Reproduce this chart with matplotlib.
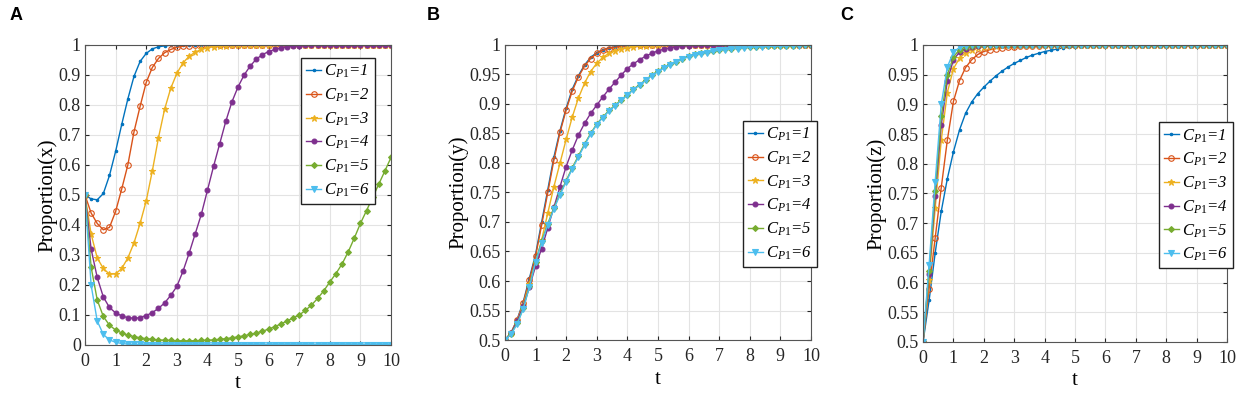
import numpy as np
import matplotlib
matplotlib.use("Agg")
import matplotlib.pyplot as plt

plt.rcParams['font.family'] = ['Liberation Serif', 'DejaVu Serif']
plt.rcParams['mathtext.fontset'] = 'custom'
plt.rcParams['mathtext.it'] = 'Liberation Serif:italic'
plt.rcParams['mathtext.rm'] = 'Liberation Serif'

# time grid (step 0.2)
t = np.round(np.arange(0, 10.01, 0.2), 1)

# ---------------- Panel A : Proportion(x) ----------------
A1 = [0.500, 0.487, 0.484, 0.505, 0.565, 0.645, 0.735, 0.820, 0.895, 0.945,
      0.972, 0.987, 0.994, 0.997, 0.999, 1.000, 1.000, 1.000, 1.000, 1.000,
      1.000, 1.000, 1.000, 1.000, 1.000, 1.000, 1.000, 1.000, 1.000, 1.000,
      1.000, 1.000, 1.000, 1.000, 1.000, 1.000, 1.000, 1.000, 1.000, 1.000,
      1.000, 1.000, 1.000, 1.000, 1.000, 1.000, 1.000, 1.000, 1.000, 1.000,
      1.000]
A2 = [0.500, 0.440, 0.405, 0.384, 0.392, 0.445, 0.520, 0.600, 0.710, 0.795,
      0.875, 0.925, 0.955, 0.974, 0.985, 0.992, 0.996, 0.998, 0.999, 1.000,
      1.000, 1.000, 1.000, 1.000, 1.000, 1.000, 1.000, 1.000, 1.000, 1.000,
      1.000, 1.000, 1.000, 1.000, 1.000, 1.000, 1.000, 1.000, 1.000, 1.000,
      1.000, 1.000, 1.000, 1.000, 1.000, 1.000, 1.000, 1.000, 1.000, 1.000,
      1.000]
A3 = [0.500, 0.370, 0.290, 0.255, 0.236, 0.237, 0.255, 0.290, 0.340, 0.405,
      0.480, 0.580, 0.690, 0.785, 0.855, 0.905, 0.940, 0.962, 0.976, 0.985,
      0.991, 0.994, 0.996, 0.998, 0.999, 1.000, 1.000, 1.000, 1.000, 1.000,
      1.000, 1.000, 1.000, 1.000, 1.000, 1.000, 1.000, 1.000, 1.000, 1.000,
      1.000, 1.000, 1.000, 1.000, 1.000, 1.000, 1.000, 1.000, 1.000, 1.000,
      1.000]
A4 = [0.500, 0.320, 0.225, 0.160, 0.125, 0.107, 0.097, 0.091, 0.089, 0.091,
      0.098, 0.108, 0.122, 0.140, 0.165, 0.195, 0.245, 0.305, 0.370, 0.435,
      0.515, 0.595, 0.670, 0.745, 0.810, 0.860, 0.900, 0.930, 0.953, 0.968,
      0.978, 0.985, 0.990, 0.994, 0.996, 0.998, 0.999, 1.000, 1.000, 1.000,
      1.000, 1.000, 1.000, 1.000, 1.000, 1.000, 1.000, 1.000, 1.000, 1.000,
      1.000]
A5 = [0.500, 0.260, 0.150, 0.095, 0.066, 0.050, 0.040, 0.033, 0.028, 0.024,
      0.021, 0.019, 0.017, 0.016, 0.015, 0.014, 0.014, 0.014, 0.014, 0.015,
      0.016, 0.017, 0.019, 0.021, 0.024, 0.027, 0.031, 0.035, 0.040, 0.046,
      0.053, 0.061, 0.070, 0.080, 0.090, 0.100, 0.115, 0.133, 0.155, 0.180,
      0.210, 0.238, 0.270, 0.310, 0.356, 0.405, 0.448, 0.492, 0.536, 0.580,
      0.625]
A6 = [0.500, 0.200, 0.080, 0.035, 0.017, 0.009, 0.005, 0.003, 0.002, 0.002,
      0.001, 0.001, 0.001, 0.001, 0.001, 0.001, 0.001, 0.001, 0.001, 0.001,
      0.001, 0.001, 0.001, 0.001, 0.001, 0.001, 0.001, 0.001, 0.001, 0.001,
      0.001, 0.001, 0.001, 0.001, 0.001, 0.001, 0.001, 0.001, 0.001, 0.001,
      0.001, 0.001, 0.001, 0.001, 0.001, 0.001, 0.001, 0.001, 0.001, 0.001,
      0.001]

# ---------------- Panel B : Proportion(y) ----------------
B1 = [0.500, 0.512, 0.535, 0.565, 0.605, 0.645, 0.700, 0.755, 0.810, 0.855,
      0.893, 0.925, 0.948, 0.966, 0.979, 0.987, 0.992, 0.995, 0.997, 0.998,
      0.999, 1.000, 1.000, 1.000, 1.000, 1.000, 1.000, 1.000, 1.000, 1.000,
      1.000, 1.000, 1.000, 1.000, 1.000, 1.000, 1.000, 1.000, 1.000, 1.000,
      1.000, 1.000, 1.000, 1.000, 1.000, 1.000, 1.000, 1.000, 1.000, 1.000,
      1.000]
B2 = [0.500, 0.512, 0.534, 0.563, 0.602, 0.642, 0.695, 0.750, 0.805, 0.852,
      0.890, 0.922, 0.946, 0.964, 0.977, 0.986, 0.991, 0.994, 0.996, 0.998,
      0.999, 1.000, 1.000, 1.000, 1.000, 1.000, 1.000, 1.000, 1.000, 1.000,
      1.000, 1.000, 1.000, 1.000, 1.000, 1.000, 1.000, 1.000, 1.000, 1.000,
      1.000, 1.000, 1.000, 1.000, 1.000, 1.000, 1.000, 1.000, 1.000, 1.000,
      1.000]
B3 = [0.500, 0.512, 0.533, 0.560, 0.595, 0.630, 0.670, 0.715, 0.760, 0.800,
      0.840, 0.878, 0.910, 0.935, 0.955, 0.969, 0.979, 0.986, 0.990, 0.993,
      0.995, 0.997, 0.998, 0.999, 1.000, 1.000, 1.000, 1.000, 1.000, 1.000,
      1.000, 1.000, 1.000, 1.000, 1.000, 1.000, 1.000, 1.000, 1.000, 1.000,
      1.000, 1.000, 1.000, 1.000, 1.000, 1.000, 1.000, 1.000, 1.000, 1.000,
      1.000]
B4 = [0.500, 0.512, 0.532, 0.558, 0.590, 0.625, 0.655, 0.690, 0.725, 0.760,
      0.794, 0.822, 0.847, 0.867, 0.884, 0.898, 0.912, 0.925, 0.937, 0.949,
      0.960, 0.968, 0.975, 0.981, 0.986, 0.990, 0.993, 0.995, 0.997, 0.998,
      0.999, 1.000, 1.000, 1.000, 1.000, 1.000, 1.000, 1.000, 1.000, 1.000,
      1.000, 1.000, 1.000, 1.000, 1.000, 1.000, 1.000, 1.000, 1.000, 1.000,
      1.000]
B5 = [0.500, 0.511, 0.528, 0.554, 0.591, 0.633, 0.667, 0.697, 0.724, 0.748,
      0.770, 0.792, 0.812, 0.832, 0.850, 0.866, 0.878, 0.889, 0.898, 0.907,
      0.916, 0.925, 0.933, 0.941, 0.949, 0.956, 0.962, 0.967, 0.972, 0.977,
      0.981, 0.984, 0.986, 0.988, 0.990, 0.992, 0.993, 0.994, 0.995, 0.996,
      0.997, 0.997, 0.998, 0.998, 0.999, 0.999, 0.999, 0.999, 1.000, 1.000,
      1.000]
B6 = [0.500, 0.510, 0.527, 0.553, 0.590, 0.632, 0.665, 0.695, 0.722, 0.746,
      0.768, 0.790, 0.810, 0.830, 0.849, 0.865, 0.877, 0.888, 0.897, 0.906,
      0.915, 0.924, 0.932, 0.940, 0.948, 0.955, 0.961, 0.966, 0.971, 0.976,
      0.980, 0.983, 0.985, 0.987, 0.989, 0.991, 0.992, 0.993, 0.994, 0.995,
      0.996, 0.9965, 0.997, 0.9975, 0.998, 0.998, 0.9985, 0.999, 0.999, 0.9995,
      0.9995]

# ---------------- Panel C : Proportion(z) ----------------
C1 = [0.500, 0.570, 0.650, 0.720, 0.775, 0.820, 0.857, 0.885, 0.904, 0.918,
      0.929, 0.939, 0.948, 0.956, 0.963, 0.969, 0.974, 0.979, 0.983, 0.986,
      0.989, 0.991, 0.993, 0.995, 0.996, 0.997, 0.998, 0.998, 0.999, 0.999,
      1.000, 1.000, 1.000, 1.000, 1.000, 1.000, 1.000, 1.000, 1.000, 1.000,
      1.000, 1.000, 1.000, 1.000, 1.000, 1.000, 1.000, 1.000, 1.000, 1.000,
      1.000]
C2 = [0.500, 0.590, 0.675, 0.760, 0.840, 0.905, 0.940, 0.962, 0.975, 0.984,
      0.989, 0.992, 0.994, 0.995, 0.996, 0.997, 0.998, 0.998, 0.999, 0.999,
      1.000, 1.000, 1.000, 1.000, 1.000, 1.000, 1.000, 1.000, 1.000, 1.000,
      1.000, 1.000, 1.000, 1.000, 1.000, 1.000, 1.000, 1.000, 1.000, 1.000,
      1.000, 1.000, 1.000, 1.000, 1.000, 1.000, 1.000, 1.000, 1.000, 1.000,
      1.000]
C3 = [0.500, 0.605, 0.725, 0.840, 0.920, 0.960, 0.978, 0.987, 0.992, 0.995,
      0.997, 0.998, 0.999, 1.000, 1.000, 1.000, 1.000, 1.000, 1.000, 1.000,
      1.000, 1.000, 1.000, 1.000, 1.000, 1.000, 1.000, 1.000, 1.000, 1.000,
      1.000, 1.000, 1.000, 1.000, 1.000, 1.000, 1.000, 1.000, 1.000, 1.000,
      1.000, 1.000, 1.000, 1.000, 1.000, 1.000, 1.000, 1.000, 1.000, 1.000,
      1.000]
C4 = [0.500, 0.615, 0.745, 0.865, 0.940, 0.975, 0.988, 0.994, 0.997, 0.999,
      1.000, 1.000, 1.000, 1.000, 1.000, 1.000, 1.000, 1.000, 1.000, 1.000,
      1.000, 1.000, 1.000, 1.000, 1.000, 1.000, 1.000, 1.000, 1.000, 1.000,
      1.000, 1.000, 1.000, 1.000, 1.000, 1.000, 1.000, 1.000, 1.000, 1.000,
      1.000, 1.000, 1.000, 1.000, 1.000, 1.000, 1.000, 1.000, 1.000, 1.000,
      1.000]
C5 = [0.500, 0.620, 0.755, 0.880, 0.950, 0.980, 0.992, 0.997, 0.999, 1.000,
      1.000, 1.000, 1.000, 1.000, 1.000, 1.000, 1.000, 1.000, 1.000, 1.000,
      1.000, 1.000, 1.000, 1.000, 1.000, 1.000, 1.000, 1.000, 1.000, 1.000,
      1.000, 1.000, 1.000, 1.000, 1.000, 1.000, 1.000, 1.000, 1.000, 1.000,
      1.000, 1.000, 1.000, 1.000, 1.000, 1.000, 1.000, 1.000, 1.000, 1.000,
      1.000]
C6 = [0.500, 0.630, 0.770, 0.900, 0.963, 0.988, 0.996, 0.999, 1.000, 1.000,
      1.000, 1.000, 1.000, 1.000, 1.000, 1.000, 1.000, 1.000, 1.000, 1.000,
      1.000, 1.000, 1.000, 1.000, 1.000, 1.000, 1.000, 1.000, 1.000, 1.000,
      1.000, 1.000, 1.000, 1.000, 1.000, 1.000, 1.000, 1.000, 1.000, 1.000,
      1.000, 1.000, 1.000, 1.000, 1.000, 1.000, 1.000, 1.000, 1.000, 1.000,
      1.000]

labels = [r'$\mathit{C_{P1}}$=1', r'$\mathit{C_{P1}}$=2', r'$\mathit{C_{P1}}$=3',
          r'$\mathit{C_{P1}}$=4', r'$\mathit{C_{P1}}$=5', r'$\mathit{C_{P1}}$=6']
colors = ['#0072BD', '#D95319', '#EDB120', '#7E2F8E', '#77AC30', '#4DBEEE']
markers = ['.', 'o', '*', 'o', 'D', 'v']
msizes = [3.5, 4, 4.5, 3.5, 3, 4]
mfcs = [None, 'none', None, None, None, None]

panels = [
    dict(rect=[0.0681, 0.1288, 0.2452, 0.7576], data=[A1, A2, A3, A4, A5, A6],
         ylim=(0, 1), yticks=np.round(np.arange(0, 1.01, 0.1), 2),
         ylabel='Proportion(x)', letter='A', leg=(0.706, 0.957), lx=0.008, ly=0.961),
    dict(rect=[0.4046, 0.1414, 0.2452, 0.7450], data=[B1, B2, B3, B4, B5, B6],
         ylim=(0.5, 1), yticks=np.round(np.arange(0.5, 1.001, 0.05), 2),
         ylabel='Proportion(y)', letter='B', leg=(0.777, 0.743), lx=0.342, ly=0.962),
    dict(rect=[0.7396, 0.1364, 0.2436, 0.7500], data=[C1, C2, C3, C4, C5, C6],
         ylim=(0.5, 1), yticks=np.round(np.arange(0.5, 1.001, 0.05), 2),
         ylabel='Proportion(z)', letter='C', leg=(0.776, 0.740), lx=0.673, ly=0.961),
]

fig = plt.figure(figsize=(12.48, 3.96), dpi=100)

def fmt(v):
    return ('%.2f' % v).rstrip('0').rstrip('.')

for p in panels:
    ax = fig.add_axes(p['rect'])
    for i, y in enumerate(p['data']):
        kw = dict(color=colors[i], marker=markers[i], markersize=msizes[i],
                  linewidth=1.0, label=labels[i], markeredgewidth=0.8)
        if mfcs[i] is not None:
            kw['markerfacecolor'] = mfcs[i]
        ax.plot(t, y, **kw)
    ax.set_xlim(0, 10)
    ax.set_ylim(*p['ylim'])
    ax.set_xticks(range(0, 11))
    ax.set_xticklabels([str(v) for v in range(0, 11)])
    ax.set_yticks(p['yticks'])
    ax.set_yticklabels([fmt(v) for v in p['yticks']])
    ax.grid(True, color='#e3e3e3', linewidth=0.8)
    ax.set_axisbelow(True)
    ax.tick_params(direction='in', top=True, right=True, length=3,
                   labelsize=13, colors='#262626')
    ax.tick_params(axis='x', pad=6)
    ax.tick_params(axis='y', pad=3)
    for sp in ax.spines.values():
        sp.set_color('#555555')
        sp.set_linewidth(0.8)
    ax.set_xlabel('t', fontsize=15, labelpad=3)
    ax.set_ylabel(p['ylabel'], fontsize=15, labelpad=1)
    leg = ax.legend(loc='upper left', bbox_to_anchor=p['leg'], fancybox=False,
                    framealpha=1, edgecolor='#222222', handlelength=0.9,
                    handletextpad=0.2, borderpad=0.3, labelspacing=0.38,
                    borderaxespad=0,
                    prop={'family': 'Liberation Serif', 'style': 'italic', 'size': 12})
    leg.get_frame().set_linewidth(1.0)
    fig.text(p['lx'], p['ly'], p['letter'], fontsize=13, fontweight='bold',
             family='Liberation Sans', ha='left', va='center')

fig.savefig('out.png', dpi=100)
